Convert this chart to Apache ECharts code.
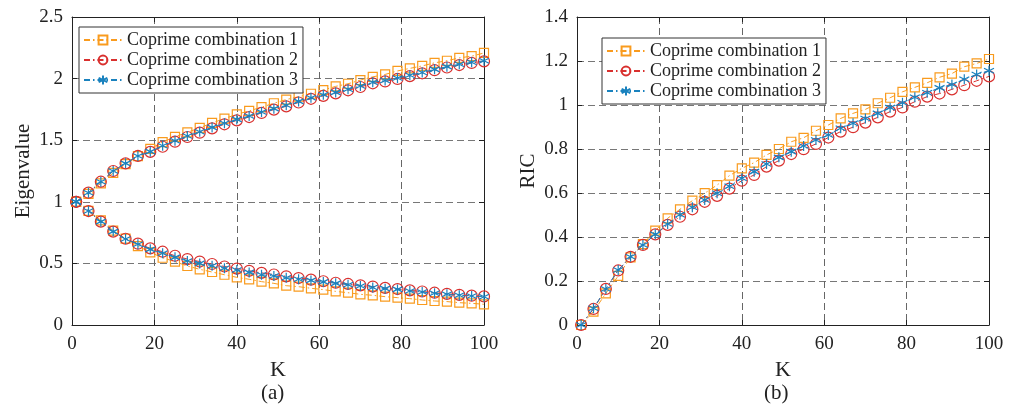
<!DOCTYPE html>
<html><head><meta charset="utf-8">
<script src="https://cdn.jsdelivr.net/npm/echarts@6/dist/echarts.min.js"></script>
<style>html,body{margin:0;padding:0;background:#fff}#c{width:1016px;height:409px}</style>
</head><body><div id="c"></div>
<script>
const K = [1,4,7,10,13,16,19,22,25,28,31,34,37,40,43,46,49,52,55,58,61,64,67,70,73,76,79,82,85,88,91,94,97,100];
const seriesNames = ['Coprime combination 1','Coprime combination 2','Coprime combination 3'];
// (a) Eigenvalue, upper branch
const eigUp1 = [1.000,1.065,1.150,1.235,1.305,1.370,1.430,1.485,1.527,1.564,1.600,1.640,1.675,1.710,1.738,1.768,1.800,1.830,1.853,1.877,1.907,1.937,1.958,1.988,2.014,2.034,2.062,2.083,2.103,2.128,2.145,2.168,2.182,2.208];
const eigUp2 = [1.000,1.074,1.163,1.250,1.312,1.372,1.405,1.447,1.488,1.526,1.561,1.596,1.629,1.661,1.688,1.721,1.748,1.775,1.806,1.836,1.860,1.880,1.905,1.932,1.962,1.977,1.997,2.020,2.043,2.068,2.090,2.110,2.127,2.140];
const eigUp3 = [1.000,1.074,1.163,1.250,1.312,1.372,1.407,1.455,1.496,1.534,1.569,1.604,1.637,1.669,1.696,1.729,1.756,1.783,1.815,1.845,1.869,1.888,1.913,1.940,1.970,1.984,2.005,2.027,2.050,2.075,2.097,2.116,2.132,2.145];
// (a) Eigenvalue, lower branch
const eigLo1 = [1.000,0.927,0.850,0.766,0.701,0.641,0.590,0.546,0.514,0.479,0.452,0.430,0.408,0.387,0.371,0.352,0.338,0.319,0.311,0.298,0.287,0.273,0.262,0.249,0.241,0.230,0.222,0.214,0.203,0.195,0.190,0.181,0.176,0.168];
const eigLo2 = [1.000,0.925,0.839,0.758,0.700,0.660,0.622,0.595,0.562,0.535,0.515,0.495,0.475,0.458,0.440,0.423,0.410,0.395,0.381,0.368,0.355,0.343,0.333,0.322,0.312,0.301,0.292,0.281,0.272,0.262,0.253,0.245,0.238,0.232];
const eigLo3 = [1.000,0.925,0.839,0.758,0.698,0.655,0.614,0.582,0.549,0.519,0.500,0.481,0.460,0.446,0.427,0.408,0.398,0.384,0.371,0.362,0.350,0.338,0.327,0.316,0.305,0.295,0.289,0.276,0.268,0.257,0.249,0.241,0.235,0.230];
// (b) RIC
const ric1 = [0,0.061,0.144,0.223,0.307,0.368,0.429,0.485,0.526,0.565,0.599,0.636,0.679,0.712,0.738,0.773,0.800,0.833,0.851,0.883,0.909,0.939,0.962,0.980,1.008,1.033,1.060,1.080,1.101,1.126,1.143,1.174,1.189,1.209];
const ric2 = [0,0.073,0.164,0.248,0.310,0.364,0.412,0.455,0.492,0.526,0.560,0.587,0.620,0.656,0.682,0.720,0.747,0.777,0.799,0.823,0.852,0.879,0.899,0.920,0.944,0.970,0.989,1.015,1.038,1.052,1.071,1.090,1.110,1.130];
const ric3 = [0,0.076,0.164,0.250,0.310,0.364,0.412,0.459,0.501,0.535,0.568,0.599,0.631,0.667,0.697,0.732,0.762,0.788,0.814,0.841,0.864,0.894,0.917,0.939,0.962,0.988,1.010,1.035,1.056,1.078,1.093,1.117,1.139,1.156];

const FONT = '"Liberation Serif","DejaVu Serif",serif';
const colors = ['#F99B1E','#D9302E','#1A82BE'];
const dashDot = [6,3,1.5,3];
const asterisk = 'path://M0,-5L0,5M-4.33,-2.5L4.33,2.5M-4.33,2.5L4.33,-2.5';
const symbols = ['rect','circle',asterisk];
const symSizes = [9,11,10];

function pair(a){ return K.map((k,i)=>[k,a[i]]); }
function mkSeries(idx, data, xi, yi){
  return {
    name: seriesNames[idx], type:'line', xAxisIndex:xi, yAxisIndex:yi,
    data: pair(data), symbol: symbols[idx], symbolSize: symSizes[idx],
    showAllSymbol:true, z: 2+idx,
    lineStyle:{color:colors[idx], width:1, type:dashDot},
    itemStyle:{color:'rgba(255,255,255,0)', borderColor:colors[idx], borderWidth:1.2},
    emphasis:{disabled:true}, animation:false
  };
}
function xAx(gi, main){
  return {type:'value', gridIndex:gi, min:0, max:100, interval:20, position: main?'bottom':'top',
    name: main?'K':'', nameLocation:'middle', nameGap:32,
    nameTextStyle:{fontFamily:FONT, fontSize:22, color:'#222'},
    axisLine:{show:true, onZero:false, lineStyle:{color:'#222', width:1}},
    axisTick:{show:true, inside:true, length:5, lineStyle:{color:'#222'}},
    axisLabel:{show:main, fontFamily:FONT, fontSize:19, color:'#222', margin:10},
    splitLine:{show:main, lineStyle:{color:'#666', type:[7,4], width:1}}};
}
function yAx(gi, main, max, interval, name){
  return {type:'value', gridIndex:gi, min:0, max:max, interval:interval, position: main?'left':'right',
    name: main?name:'', nameLocation:'middle', nameGap:38,
    nameTextStyle:{fontFamily:FONT, fontSize:21, color:'#222'},
    axisLine:{show:true, onZero:false, lineStyle:{color:'#222', width:1}},
    axisTick:{show:true, inside:true, length:5, lineStyle:{color:'#222'}},
    axisLabel:{show:main, fontFamily:FONT, fontSize:19, color:'#222', margin:9},
    splitLine:{show:main, lineStyle:{color:'#777', type:[7,4], width:1}}};
}
function legend(left, top){
  return {orient:'vertical', left:left, top:top, data:seriesNames,
    backgroundColor:'#fff', borderColor:'#333', borderWidth:1, borderRadius:0,
    padding:[3,5,3,4], itemGap:0, itemWidth:38, itemHeight:11,
    textStyle:{fontFamily:FONT, fontSize:18, lineHeight:20, color:'#222'}, selectedMode:false};
}

const chart = echarts.init(document.getElementById('c'), null, {renderer:'canvas'});
chart.setOption({
  animation:false,
  backgroundColor:'#fff',
  title:[
    {text:'(a)', left:256, top:378, textStyle:{fontFamily:FONT, fontSize:21, fontWeight:'normal', color:'#222'}},
    {text:'(b)', left:759, top:378, textStyle:{fontFamily:FONT, fontSize:21, fontWeight:'normal', color:'#222'}}
  ],
  grid:[
    {left:72, right:532, top:17, bottom:84},
    {left:577, right:27, top:17, bottom:84}
  ],
  xAxis:[xAx(0,true), xAx(0,false), xAx(1,true), xAx(1,false)],
  yAxis:[yAx(0,true,2.5,0.5,'Eigenvalue'), yAx(0,false,2.5,0.5,''), yAx(1,true,1.4,0.2,'RIC'), yAx(1,false,1.4,0.2,'')],
  legend:[legend(79,27), legend(602,38)],
  series:[
    mkSeries(0,eigUp1,0,0), mkSeries(0,eigLo1,0,0),
    mkSeries(1,eigUp2,0,0), mkSeries(1,eigLo2,0,0),
    mkSeries(2,eigUp3,0,0), mkSeries(2,eigLo3,0,0),
    mkSeries(0,ric1,2,2), mkSeries(1,ric2,2,2), mkSeries(2,ric3,2,2)
  ]
});
</script></body></html>
